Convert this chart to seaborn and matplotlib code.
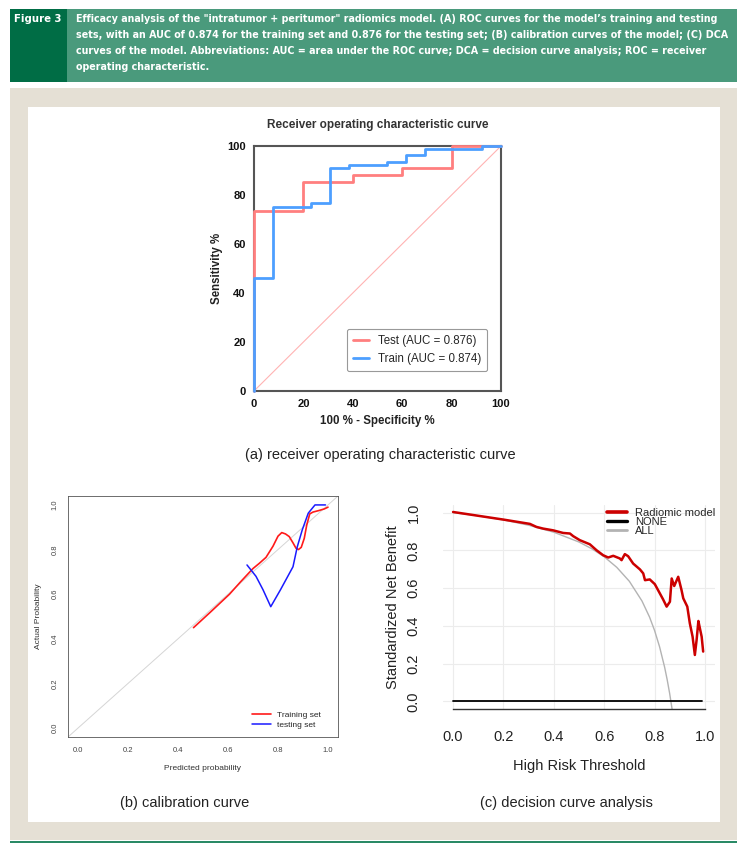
import matplotlib
matplotlib.use('Agg')
import matplotlib.pyplot as plt
import seaborn as sns
from matplotlib.patches import Rectangle
from matplotlib import font_manager

# ---------------- data ----------------
# (A) ROC curves, step corners (x = 100 - specificity %, y = sensitivity %)
test_fpr = [0, 20, 40, 60, 80, 100]
test_tpr = [0, 73.5, 85.3, 88.2, 91.2, 100]
train_fpr = [0, 7.7, 23.1, 30.8, 38.5, 53.8, 61.5, 69.2, 92.3, 100]
train_tpr = [0, 46.2, 75.0, 76.9, 91.0, 92.3, 93.6, 96.2, 98.7, 100]
roc_labels = ['Test (AUC = 0.876)', 'Train (AUC = 0.874)']

# (B) calibration curves
cal_train_pred = [0.462, 0.53, 0.606, 0.65, 0.70, 0.725, 0.752, 0.78, 0.80, 0.815,
                  0.83, 0.845, 0.86, 0.872, 0.882, 0.893, 0.905, 0.915, 0.927,
                  0.94, 0.964, 0.985, 1.0]
cal_train_obs = [0.45, 0.52, 0.60, 0.655, 0.715, 0.738, 0.765, 0.815, 0.86, 0.876,
                 0.87, 0.858, 0.83, 0.806, 0.80, 0.81, 0.85, 0.91, 0.96,
                 0.968, 0.975, 0.982, 0.99]
cal_test_pred = [0.676, 0.712, 0.74, 0.771, 0.81, 0.86, 0.877, 0.897, 0.921, 0.948, 0.99]
cal_test_obs = [0.731, 0.68, 0.62, 0.544, 0.62, 0.723, 0.812, 0.888, 0.963, 1.0, 1.0]
cal_labels = ['Training set', 'testing set']

# (C) decision curve analysis
dca_thr = [0, 0.199, 0.305, 0.331, 0.358, 0.397, 0.437, 0.464, 0.477, 0.503, 0.543,
           0.570, 0.596, 0.616, 0.636, 0.662, 0.669, 0.682, 0.695, 0.715, 0.742,
           0.755, 0.762, 0.781, 0.801, 0.821, 0.834, 0.848, 0.861, 0.868, 0.878,
           0.894, 0.907, 0.914, 0.930, 0.940, 0.951, 0.960, 0.967, 0.974, 0.980,
           0.987, 0.993]
dca_model = [1.003, 0.963, 0.94, 0.924, 0.915, 0.906, 0.892, 0.889, 0.875, 0.854, 0.832,
             0.80, 0.774, 0.762, 0.771, 0.757, 0.748, 0.78, 0.769, 0.73, 0.699,
             0.678, 0.642, 0.646, 0.621, 0.572, 0.54, 0.502, 0.528, 0.651, 0.611,
             0.66, 0.59, 0.546, 0.502, 0.414, 0.343, 0.246, 0.326, 0.426, 0.387,
             0.343, 0.264]
all_thr = [0, 0.1, 0.2, 0.3, 0.4, 0.5, 0.55, 0.6, 0.65, 0.7, 0.75, 0.78, 0.8,
           0.82, 0.84, 0.85, 0.86, 0.87]
all_nb = [1.0, 0.983, 0.961, 0.933, 0.896, 0.844, 0.809, 0.766, 0.710, 0.636, 0.532,
          0.447, 0.376, 0.289, 0.181, 0.116, 0.042, -0.044]
none_thr = [0, 0.99]
none_nb = [0, 0]
dca_labels = ['Radiomic model', 'NONE', 'ALL']

header_lines = [
    'Efficacy analysis of the "intratumor + peritumor" radiomics model. (A) ROC curves for the model\u2019s training and testing',
    'sets, with an AUC of 0.874 for the training set and 0.876 for the testing set; (B) calibration curves of the model; (C) DCA',
    'curves of the model. Abbreviations: AUC = area under the ROC curve; DCA = decision curve analysis; ROC = receiver',
    'operating characteristic.',
]

# ---------------- style ----------------
sns.set_style('white')
plt.rcParams['font.family'] = ['Liberation Sans', 'DejaVu Sans']

# header font: a condensed bold face if one is installed
fonts = font_manager.fontManager.ttflist
if any(f.name == 'Liberation Sans Narrow' for f in fonts):
    head_kw = dict(family=['Liberation Sans Narrow', 'DejaVu Sans'])
elif any(f.name == 'DejaVu Sans' and f.stretch == 'condensed' for f in fonts):
    head_kw = dict(family=['DejaVu Sans'], fontstretch='condensed')
else:
    head_kw = dict(family=['Liberation Sans', 'DejaVu Sans'])

W, H = 750, 850
fig = plt.figure(figsize=(7.5, 8.5), dpi=100)
fig.patch.set_facecolor('white')


def box(x0, y0, x1, y1):
    return [x0 / W, 1 - y1 / H, (x1 - x0) / W, (y1 - y0) / H]


def rect(x0, y0, x1, y1, color):
    b = box(x0, y0, x1, y1)
    fig.add_artist(Rectangle((b[0], b[1]), b[2], b[3], transform=fig.transFigure,
                             facecolor=color, edgecolor='none', zorder=0))


# page furniture
rect(10, 9, 737, 82, '#4a9a7c')
rect(10, 9, 67, 82, '#006d45')
rect(10, 88, 737, 840, '#e5e0d5')
rect(28, 107, 720, 822, 'white')
rect(10, 841, 737, 843, '#2a8a66')

# size the header so its second (longest) line ends near the box edge
renderer = fig.canvas.get_renderer()
probe = fig.text(0, 0, header_lines[1], fontsize=10, fontweight='bold', **head_kw)
head_size = 10 * 652 / probe.get_window_extent(renderer=renderer).width
probe.remove()

fig.text(38 / W, 1 - 19 / H, 'Figure 3', color='white', fontsize=head_size * 1.05,
         fontweight='bold', ha='center', va='center', **head_kw)
for i, line in enumerate(header_lines):
    fig.text(76 / W, 1 - (19 + 16 * i) / H, line, color='white', fontsize=head_size,
             fontweight='bold', ha='left', va='center', **head_kw)

# ---------------- (A) ROC ----------------
ax = fig.add_axes(box(254, 146, 501, 391))
roc_colors = ['#ff7f7f', '#4d9fff']
ax.axline((0, 0), slope=1, color='#ffb3b3', lw=0.8, zorder=1)
sns.lineplot(x=test_fpr, y=test_tpr, ax=ax, color=roc_colors[0], lw=2.0,
             drawstyle='steps-pre', sort=False, estimator=None, label=roc_labels[0],
             clip_on=False, zorder=4)
sns.lineplot(x=train_fpr, y=train_tpr, ax=ax, color=roc_colors[1], lw=2.0,
             drawstyle='steps-pre', sort=False, estimator=None, label=roc_labels[1],
             clip_on=False, zorder=5)
ax.set_xlim(0, 100)
ax.set_ylim(0, 100)
ax.set_xticks(range(0, 101, 20))
ax.set_yticks(range(0, 101, 20))
for s in ax.spines.values():
    s.set_color('#555555')
    s.set_linewidth(1.5)
ax.tick_params(direction='out', length=4, width=1.5, color='#555555',
               labelsize=8, labelcolor='#111111', pad=2)
for t in ax.get_xticklabels() + ax.get_yticklabels():
    t.set_fontweight('bold')
ax.set_title('Receiver operating characteristic curve', fontsize=8.5,
             fontweight='bold', color='#333333', pad=13)
ax.set_xlabel('100 % - Specificity %', fontsize=8.3, fontweight='bold',
              color='#222222', labelpad=4)
ax.set_ylabel('Sensitivity %', fontsize=8.3, fontweight='bold',
              color='#222222', labelpad=3)
leg = ax.legend(loc='upper left', bbox_to_anchor=(0.377, 0.253), borderaxespad=0,
                fontsize=8.3, handlelength=1.4, handletextpad=0.8, labelspacing=0.55,
                borderpad=0.5, fancybox=True, framealpha=1)
leg.get_frame().set_edgecolor('#999999')
leg.get_frame().set_linewidth(0.8)

fig.text(380 / W, 1 - 455 / H, '(a) receiver operating characteristic curve',
         fontsize=10.5, color='#222222', ha='center', va='center')

# ---------------- (B) calibration ----------------
ax = fig.add_axes(box(68, 496, 338, 737))
ax.axline((0, 0), slope=1, color='#d5d5d5', lw=0.7, zorder=1)
sns.lineplot(x=cal_train_pred, y=cal_train_obs, ax=ax, color='#ff1a1a', lw=1.2,
             sort=False, estimator=None, label=cal_labels[0])
sns.lineplot(x=cal_test_pred, y=cal_test_obs, ax=ax, color='#1a1aff', lw=1.1,
             sort=False, estimator=None, label=cal_labels[1])
ax.set_xlim(-0.04, 1.04)
ax.set_ylim(-0.04, 1.04)
ticks = [0, 0.2, 0.4, 0.6, 0.8, 1.0]
ax.set_xticks(ticks)
ax.set_yticks(ticks)
ax.set_xticklabels([f'{t:.1f}' for t in ticks])
ax.set_yticklabels([f'{t:.1f}' for t in ticks], rotation=90, va='center')
for s in ax.spines.values():
    s.set_color('#555555')
    s.set_linewidth(0.6)
ax.tick_params(direction='out', length=3, width=0.6, color='#555555',
               labelsize=5.5, labelcolor='#444444', pad=4)
ax.set_xlabel('Predicted probability', fontsize=6, color='#333333', labelpad=8)
ax.set_ylabel('Actual Probability', fontsize=6, color='#333333', labelpad=7)
ax.legend(loc='lower right', bbox_to_anchor=(0.95, 0.02), borderaxespad=0,
          frameon=False, fontsize=6, handlelength=2.2, handletextpad=0.8,
          labelspacing=0.3)

fig.text(185 / W, 1 - 803 / H, '(b) calibration curve', fontsize=10.5,
         color='#222222', ha='center', va='center')

# ---------------- (C) DCA ----------------
ax = fig.add_axes(box(443, 505, 715, 709))
ax.set_xlim(-0.04, 1.04)
ax.set_ylim(-0.04, 1.04)
ax.set_xticks(ticks)
ax.set_yticks(ticks)
ax.grid(True, color='#ececec', lw=0.8)
ax.set_axisbelow(True)
sns.lineplot(x=dca_thr, y=dca_model, ax=ax, color='#cc0000', lw=1.8,
             sort=False, estimator=None, label=dca_labels[0], zorder=4)
sns.lineplot(x=none_thr, y=none_nb, ax=ax, color='black', lw=1.3,
             sort=False, estimator=None, label=dca_labels[1], zorder=3)
sns.lineplot(x=all_thr, y=all_nb, ax=ax, color='#b3b3b3', lw=1.0,
             sort=False, estimator=None, label=dca_labels[2], zorder=2)
ax.set_xticklabels([f'{t:.1f}' for t in ticks])
ax.set_yticklabels([f'{t:.1f}' for t in ticks], rotation=90, va='center')
for k in ['left', 'top', 'right']:
    ax.spines[k].set_visible(False)
ax.spines['bottom'].set_bounds(0, 1)
ax.spines['bottom'].set_color('#333333')
ax.spines['bottom'].set_linewidth(1.0)
ax.tick_params(axis='x', direction='out', length=7, width=1, color='#333333',
               labelsize=10.5, labelcolor='#222222', pad=8)
ax.tick_params(axis='y', length=0, labelsize=10.5, labelcolor='#222222', pad=16)
ax.set_xlabel('High Risk Threshold', fontsize=10.5, color='#222222', labelpad=11)
ax.set_ylabel('Standardized Net Benefit', fontsize=10.5, color='#222222', labelpad=5)
leg = ax.legend(loc='upper left', bbox_to_anchor=((607 - 443) / 272, (709 - 508) / 204),
                borderaxespad=0, borderpad=0, frameon=False, fontsize=8,
                handlelength=1.8, handletextpad=0.7, labelspacing=-0.1)
for ln, w in zip(leg.get_lines(), [2.6, 2.4, 2.0]):
    ln.set_linewidth(w)

fig.text(566 / W, 1 - 803 / H, '(c) decision curve analysis', fontsize=10.5,
         color='#222222', ha='center', va='center')

fig.savefig('out.png', dpi=100, facecolor='white')
